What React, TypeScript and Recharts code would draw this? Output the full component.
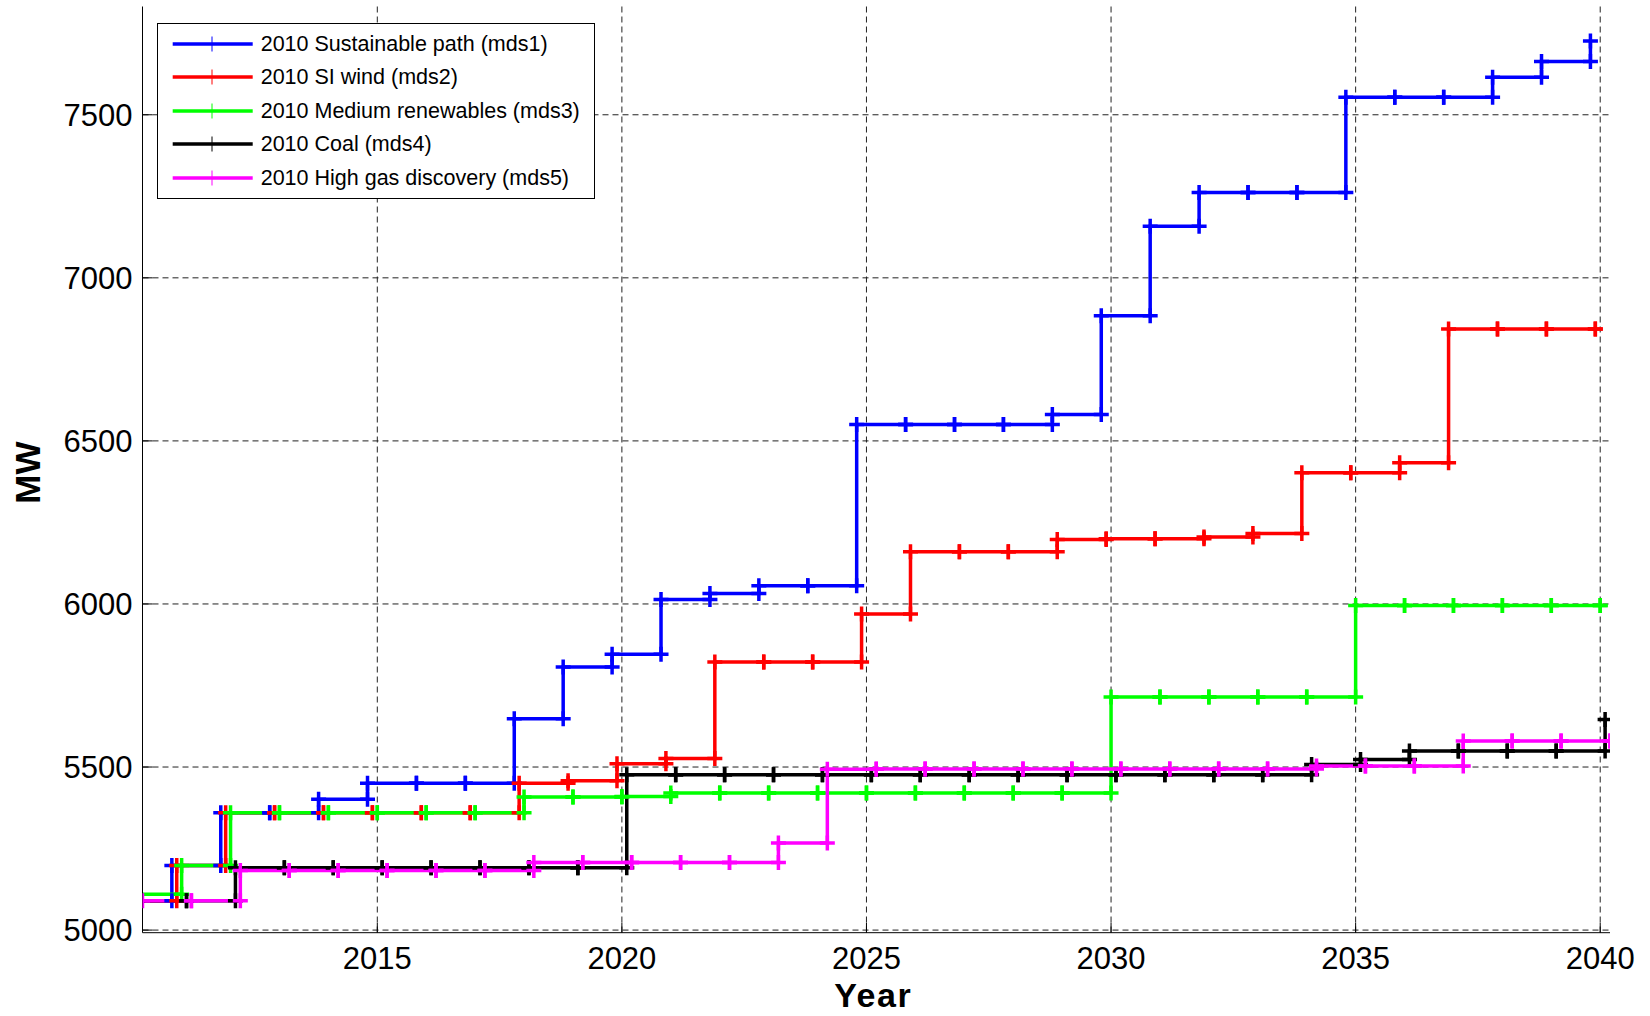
import React from 'react';
import { LineChart, Line, XAxis, YAxis, CartesianGrid, Legend } from 'recharts';

const years = [
  2010, 2011, 2012, 2013, 2014, 2015, 2016, 2017, 2018, 2019,
  2020, 2021, 2022, 2023, 2024, 2025, 2026, 2027, 2028, 2029,
  2030, 2031, 2032, 2033, 2034, 2035, 2036, 2037, 2038, 2039, 2040,
];

const sustainablePath = [
  5090, 5198, 5360, 5360, 5401, 5450, 5450, 5450, 5648, 5807,
  5846, 6014, 6032, 6056, 6056, 6550, 6550, 6550, 6550, 6581,
  6884, 7158, 7262, 7262, 7262, 7554, 7554, 7554, 7615, 7663, 7726,
];

const siWind = [
  5090, 5198, 5360, 5360, 5360, 5360, 5360, 5360, 5450, 5458,
  5510, 5526, 5822, 5822, 5822, 5969, 6160, 6160, 6160, 6198,
  6200, 6200, 6205, 6216, 6402, 6402, 6433, 6843, 6843, 6843, 6843,
];

const mediumRenewables = [
  5110, 5198, 5360, 5360, 5360, 5360, 5360, 5360, 5408, 5408,
  5410, 5420, 5420, 5420, 5420, 5420, 5420, 5420, 5420, 5420,
  5715, 5715, 5715, 5715, 5715, 5995, 5995, 5995, 5995, 5995, 5995,
];

const coal = [
  5090, 5090, 5191, 5191, 5191, 5191, 5191, 5191, 5191, 5191,
  5476, 5476, 5476, 5476, 5476, 5476, 5476, 5476, 5476, 5476,
  5476, 5476, 5476, 5476, 5508, 5523, 5549, 5549, 5549, 5549, 5646,
];

const highGasDiscovery = [
  5090, 5090, 5183, 5183, 5183, 5183, 5183, 5183, 5207, 5207,
  5207, 5207, 5207, 5267, 5493, 5494, 5494, 5494, 5494, 5494,
  5494, 5494, 5494, 5494, 5503, 5503, 5503, 5580, 5580, 5580, 5580,
];

// plotted x = year + per-series shift (as in the original figure)
const seriesNames = [
  '2010 Sustainable path (mds1)',
  '2010 SI wind (mds2)',
  '2010 Medium renewables (mds3)',
  '2010 Coal (mds4)',
  '2010 High gas discovery (mds5)',
];
const seriesValues = [sustainablePath, siWind, mediumRenewables, coal, highGasDiscovery];
const seriesXShift = [-0.2, -0.1, 0, 0.1, 0.2];
const seriesColors = ['#0000FF', '#FF0000', '#00FF00', '#000000', '#FF00FF'];

const xTicks = [2015, 2020, 2025, 2030, 2035, 2040];
const yTicks = [5000, 5500, 6000, 6500, 7000, 7500];
const xDomain: [number, number] = [2010.2, 2040.2];
const yDomain: [number, number] = [4992, 7832];

const FONT = '"Liberation Sans", Arial, Helvetica, sans-serif';

// Stairs vertices (old MATLAB stairs: markers at every corner)
function stairVertices(values: number[], shift: number) {
  const pts: { x: number; y: number }[] = [];
  values.forEach((v, i) => {
    const x = years[i] + shift;
    if (i > 0) pts.push({ x, y: values[i - 1] });
    pts.push({ x, y: v });
  });
  return pts;
}

const PlusDot = (props: any) => {
  const { cx, cy, stroke, index } = props;
  if (cx == null || cy == null || isNaN(cx) || isNaN(cy)) return null;
  const s = 7.5;
  return (
    <path
      key={`d-${index}`}
      d={`M${cx - s},${cy}H${cx + s}M${cx},${cy - s}V${cy + s}`}
      stroke={stroke}
      strokeWidth={3.5}
      fill="none"
    />
  );
};

const YearLabel = (props: any) => {
  const vb = props.viewBox || { x: 142.5, y: 932.7, width: 1467.5, height: 83.3 };
  return (
    <text
      x={vb.x + vb.width / 2 - 3}
      y={1007}
      textAnchor="middle"
      fontFamily={FONT}
      fontWeight="bold"
      fontSize={34}
      letterSpacing={1.5}
      fill="#000"
    >
      Year
    </text>
  );
};

const MWLabel = (props: any) => {
  const vb = props.viewBox || { x: 0, y: 6.5, width: 142.5, height: 926 };
  const cx = 40;
  const cy = vb.y + vb.height / 2 + 3;
  return (
    <text
      x={cx}
      y={cy}
      transform={`rotate(-90, ${cx}, ${cy})`}
      textAnchor="middle"
      fontFamily={FONT}
      fontWeight="bold"
      fontSize={35}
      fill="#000"
    >
      MW
    </text>
  );
};

const renderLegend = () => (
  <div
    style={{
      width: 436,
      height: 174,
      border: '1px solid #000',
      background: '#fff',
      position: 'relative',
      fontFamily: FONT,
      fontSize: 21.5,
      color: '#000',
    }}
  >
    {seriesNames.map((name, i) => (
      <div
        key={name}
        style={{
          position: 'absolute',
          left: 0,
          top: 19.8 + i * 33.5 - 17,
          height: 34,
          display: 'flex',
          alignItems: 'center',
          whiteSpace: 'nowrap',
        }}
      >
        <svg width={100} height={34} style={{ display: 'block' }}>
          <line x1={14.7} x2={94.7} y1={17} y2={17} stroke={seriesColors[i]} strokeWidth={3.3} />
          <line x1={54} x2={54} y1={9.5} y2={24.5} stroke={seriesColors[i]} strokeWidth={1} />
        </svg>
        <span style={{ marginLeft: 2.7, lineHeight: '34px' }}>{name}</span>
      </div>
    ))}
  </div>
);

export default function App() {
  const tickStyle = { fontSize: 31, fill: '#000', fontFamily: FONT };
  return (
    <div style={{ position: 'absolute', left: 0, top: 0, width: 1650, height: 1016, background: '#fff', overflow: 'hidden' }}>
      <LineChart width={1650} height={1016} margin={{ top: 6.5, right: 40, bottom: 0, left: 0 }}>
        <CartesianGrid stroke="#222" strokeWidth={1} strokeDasharray="6 4" horizontalValues={yTicks} verticalValues={xTicks} />
        <XAxis
          dataKey="x"
          type="number"
          domain={xDomain}
          allowDataOverflow
          ticks={xTicks}
          interval={0}
          height={83.3}
          tickSize={-10}
          tickMargin={24}
          tick={tickStyle}
          axisLine={{ stroke: '#000', strokeWidth: 1 }}
          tickLine={{ stroke: '#000', strokeWidth: 1 }}
          label={<YearLabel />}
        />
        <XAxis
          xAxisId="top"
          orientation="top"
          dataKey="x"
          type="number"
          domain={xDomain}
          allowDataOverflow
          ticks={xTicks}
          interval={0}
          height={0}
          tickSize={-10}
          tickFormatter={() => ''}
          axisLine={{ stroke: '#000', strokeWidth: 1 }}
          tickLine={{ stroke: '#000', strokeWidth: 1 }}
        />
        <YAxis
          type="number"
          domain={yDomain}
          allowDataOverflow
          ticks={yTicks}
          interval={0}
          width={142.5}
          tickSize={-10}
          tickMargin={20}
          tick={tickStyle}
          axisLine={{ stroke: '#000', strokeWidth: 1 }}
          tickLine={{ stroke: '#000', strokeWidth: 1 }}
          label={<MWLabel />}
        />
        <YAxis
          yAxisId="right"
          orientation="right"
          type="number"
          domain={yDomain}
          allowDataOverflow
          ticks={yTicks}
          interval={0}
          width={0}
          tickSize={-10}
          tickFormatter={() => ''}
          axisLine={{ stroke: '#000', strokeWidth: 1 }}
          tickLine={{ stroke: '#000', strokeWidth: 1 }}
        />
        <Legend
          content={renderLegend}
          layout="vertical"
          align="center"
          verticalAlign="middle"
          wrapperStyle={{ left: 157, top: 23, width: 438, height: 176 }}
        />
        {seriesNames.map((name, i) => (
          <Line
            key={name}
            name={name}
            data={stairVertices(seriesValues[i], seriesXShift[i])}
            dataKey="y"
            type="linear"
            stroke={seriesColors[i]}
            strokeWidth={3.5}
            dot={PlusDot}
            activeDot={false}
            isAnimationActive={false}
          />
        ))}
      </LineChart>
    </div>
  );
}
